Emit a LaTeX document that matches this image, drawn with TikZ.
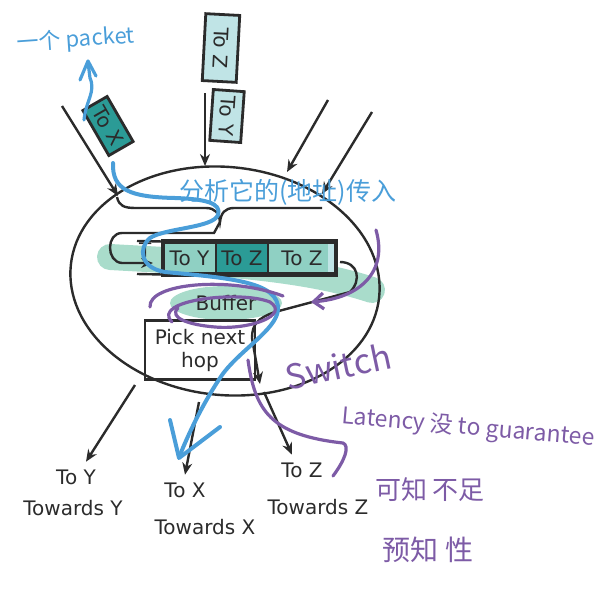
\documentclass[tikz,border=0pt]{standalone}
\usepackage{fontspec}
\setmainfont{DejaVu Sans}
\newfontfamily\cjk{Noto Sans CJK SC}
\usetikzlibrary{positioning,arrows.meta}

\definecolor{inkdark}{HTML}{2B2B2B}
\definecolor{pktlight}{HTML}{C0E4E6}
\definecolor{pktmid}{HTML}{8FD0C3}
\definecolor{pktdark}{HTML}{2B9B96}
\definecolor{hilite}{HTML}{A9DCCB}
\definecolor{penblue}{HTML}{4A9ED9}
\definecolor{penpurple}{HTML}{7D5BA6}

\begin{document}
\begin{tikzpicture}[
		x=0.5pt, y=-0.5pt,
		color=inkdark, line width=1.2pt,
		lbl/.style={font=\fontsize{10}{11.5}\selectfont},
		arr/.style={-{Stealth[length=6pt,width=5pt]}},
		packet/.style={draw, line width=1.4pt, lbl, inner sep=0pt, outer sep=0pt},
		cell/.style={draw, lbl, inner sep=0pt, outer sep=0pt, minimum height=16.5pt, anchor=west},
		bluepen/.style={penblue, line width=1.6pt, line cap=round, line join=round},
		purplepen/.style={penpurple, line width=1.6pt, line cap=round, line join=round},
		note/.style={font=\cjk\fontsize{#1}{#1}\selectfont},
	]
		\useasboundingbox (0,0) rectangle (612,601);

		% highlighter strokes
		\draw[hilite, line width=13pt, line cap=round] (110,257) .. controls (200,262) and (300,266) .. (372,290);
		\fill[hilite] (226,303) ellipse [x radius=56, y radius=17];

		% the switch
		\draw[rotate around={-6:(225,281)}] (225,281) ellipse [x radius=155, y radius=114];
		\draw (117,197) .. controls (119,206) and (124,208) .. (136,208) -- (206,208)
			.. controls (215,208) and (219,213) .. (220,222)
			.. controls (221,213) and (225,208) .. (234,208) -- (322,208);

		% incoming packets
		\node[packet, fill=pktdark, minimum width=26pt, minimum height=14pt, rotate=-60] (pktX) at (108,126) {To X};
		\node[packet, fill=pktlight, minimum width=33.5pt, minimum height=17pt, rotate=-93] (pktZ) at (221,48) {To Z};
		\node[packet, fill=pktlight, minimum width=25.5pt, minimum height=15.5pt, rotate=-94] (pktY) at (227,116) {To Y};

		\coordinate (srcA) at (62,106);  \coordinate (dstA) at (118,196);
		\coordinate (srcB) at (205,93);  \coordinate (dstB) at (205,166);
		\coordinate (srcC) at (328,100); \coordinate (dstC) at (287,172);
		\coordinate (srcD) at (372,112); \coordinate (dstD) at (322,194);
		\draw[arr] (srcA) -- (dstA);
		\draw[arr] (srcB) -- (dstB);
		\draw[arr] (srcC) -- (dstC);
		\draw[arr] (srcD) -- (dstD);

		% queue
		\node[lbl, anchor=west, inner sep=0pt] (q0) at (138,250) {T};
		\node[cell, fill=pktmid, minimum width=26.5pt] (q1) at (163,258) {To Y};
		\node[cell, fill=pktdark, minimum width=26pt, right=0pt of q1] (q2) {To Z};
		\node[cell, fill=pktmid, minimum width=34pt, right=0pt of q2] (q3) {To Z};
		\fill[pktlight] ([xshift=-4pt]q3.north east) rectangle (q3.south east);
		\draw[line width=2.2pt] (q1.north west) rectangle (q3.south east);
		\draw (137,241) -- (q1.north west);
		\draw (137,274) -- (q1.south west);

		\coordinate (brace) at (220,222);
		\draw[arr] (brace) -- (214,233) -- (122,233) .. controls (106,233) and (106,262) .. (122,263)
			-- ([xshift=-5pt,yshift=-2.5pt]q1.west);

		\node[lbl] (buf) at (226,303) {Buffer};
		\node[draw, lbl, align=center, inner sep=0pt, minimum width=55pt, minimum height=29.5pt] (hop) at (200,350) {Pick next\\hop};

		\draw[arr] ([xshift=2pt,yshift=-2pt]q3.east) .. controls (358,262) and (362,280) .. (350,292)
			-- (275,312) .. controls (258,318) and (252,324) .. (252,338) -- (260,384);

		% outgoing links
		\node[lbl] (toY) at (76,477) {To Y};
		\node[lbl] (towY) at (73,508) {Towards Y};
		\node[lbl] (toX) at (185,490) {To X};
		\node[lbl] (towX) at (205,527) {Towards X};
		\node[lbl] (toZ) at (302,470) {To Z};
		\node[lbl] (towZ) at (318,507) {Towards Z};
		\coordinate (outY) at (135,385);
		\coordinate (outX) at (199,402);
		\coordinate (outZ) at (264,392);
		\draw[arr] (outY) -- ([xshift=5pt]toY.north);
		\draw[arr] (outX) -- (toX.north);
		\draw[arr] (outZ) -- ([xshift=-5pt]toZ.north);

		% blue notes
		\node[note=11, penblue, rotate=4] (nPkt) at (76,40) {一个 packet};
		\draw[bluepen] (84,120) .. controls (86,100) and (96,92) .. (90,78) -- (88,62);
		\draw[bluepen] (80,80) -- (88,61) -- (96,76);
		\node[note=12.5, penblue] (nRecv) at (288,192) {分析它的(地址)传入};
		\draw[bluepen, line width=2pt] (113,163) .. controls (112,190) and (130,197) .. (175,198)
			.. controls (205,199) and (222,203) .. (218,215)
			.. controls (213,228) and (165,228) .. (150,238)
			.. controls (138,248) and (140,268) .. (165,272)
			.. controls (230,278) and (280,282) .. (278,310)
			.. controls (276,330) and (240,350) .. (222,375)
			.. controls (205,400) and (190,430) .. (180,455);
		\draw[bluepen, line width=2pt] (170,420) -- (179,458) -- (220,427);

		% purple notes
		\draw[purplepen] (150,307) .. controls (148,283) and (230,276) .. (283,296);
		\draw[purplepen] (172,322) .. controls (150,300) and (240,290) .. (270,302)
			.. controls (290,315) and (250,330) .. (215,327)
			.. controls (190,325) and (168,318) .. (178,308);
		\draw[purplepen, -{Straight Barb[length=5pt,width=8pt]}] (376,230) .. controls (388,272) and (360,298) .. (311,302);
		\node[note=17, penpurple, rotate=12] (nSw) at (338,366) {Switch};
		\draw[purplepen] (248,360) .. controls (255,410) and (270,435) .. (343,443)
			.. controls (350,446) and (345,460) .. (333,476);
		\node[note=11.5, penpurple, rotate=-5] (nLat) at (468,428) {Latency 没 to guarantee};
		\node[note=13, penpurple] (nKnow) at (430,490) {可知 不足};
		\node[note=14, penpurple] (nPred) at (428,550) {预知 性};
	\end{tikzpicture}
\end{document}
